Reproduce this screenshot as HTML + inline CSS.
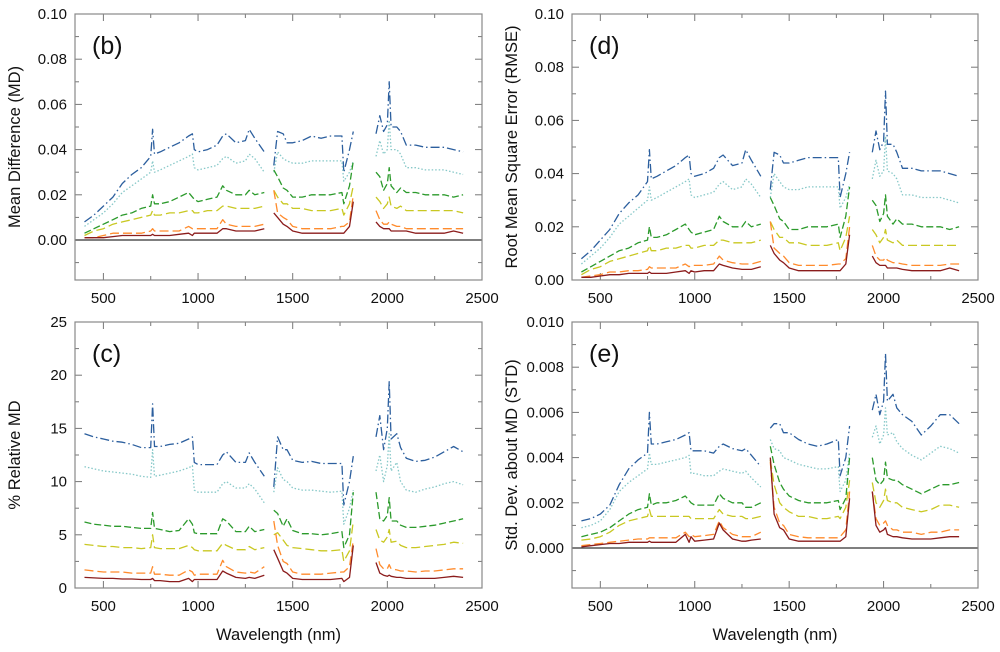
<!DOCTYPE html>
<html><head><meta charset="utf-8"><style>
body{margin:0;background:#fff;width:1000px;height:652px;overflow:hidden}
svg{display:block;font-family:"Liberation Sans",Arial,sans-serif}
</style></head><body>
<svg id="chart" width="1000" height="652" viewBox="0 0 1000 652" xmlns="http://www.w3.org/2000/svg"></svg>
<script>
const wavelengths=[400,450,500,550,600,650,700,750,760,770,800,850,900,950,970,980,1000,1050,1100,1130,1150,1200,1250,1270,1300,1350,null,1400,1420,1450,1470,1500,1550,1600,1650,1700,1760,1770,1800,1820,null,1940,1960,1980,2000,2010,2020,2050,2070,2100,2150,2200,2250,2300,2350,2400];
const xTicks=[500,1000,1500,2000,2500];
const seriesNames=["blue","cyan","green","yellow","orange","red"];

// (b) Mean Difference
const mdBlue=[0.008,0.011,0.015,0.019,0.025,0.029,0.032,0.037,0.049,0.038,0.039,0.041,0.043,0.046,0.047,0.040,0.039,0.040,0.042,0.046,0.047,0.043,0.044,0.049,0.045,0.039,null,0.033,0.048,0.047,0.043,0.043,0.044,0.046,0.045,0.046,0.046,0.030,0.040,0.048,null,0.047,0.055,0.048,0.051,0.070,0.050,0.050,0.048,0.042,0.042,0.041,0.041,0.041,0.040,0.039];
const mdCyan=[0.006,0.009,0.012,0.016,0.021,0.024,0.027,0.030,0.035,0.030,0.031,0.033,0.035,0.037,0.038,0.032,0.031,0.032,0.033,0.036,0.037,0.034,0.035,0.038,0.036,0.030,null,0.030,0.039,0.036,0.035,0.034,0.034,0.035,0.035,0.035,0.035,0.026,0.030,0.035,null,0.037,0.044,0.038,0.040,0.053,0.040,0.040,0.038,0.032,0.032,0.031,0.031,0.031,0.030,0.029];
const mdGreen=[0.003,0.005,0.007,0.009,0.011,0.012,0.014,0.015,0.020,0.016,0.016,0.017,0.019,0.021,0.019,0.018,0.017,0.018,0.019,0.024,0.022,0.020,0.020,0.022,0.020,0.021,null,0.031,0.028,0.023,0.022,0.019,0.019,0.020,0.020,0.020,0.021,0.016,0.024,0.035,null,0.030,0.028,0.022,0.025,0.032,0.024,0.021,0.023,0.021,0.021,0.020,0.020,0.020,0.019,0.020];
const mdYellow=[0.002,0.004,0.005,0.007,0.008,0.009,0.010,0.011,0.013,0.011,0.011,0.012,0.012,0.013,0.013,0.012,0.012,0.013,0.013,0.015,0.015,0.014,0.014,0.014,0.014,0.015,null,0.022,0.019,0.016,0.016,0.014,0.014,0.013,0.013,0.013,0.014,0.011,0.016,0.024,null,0.019,0.017,0.014,0.016,0.019,0.015,0.014,0.015,0.013,0.013,0.013,0.013,0.013,0.013,0.012];
const mdOrange=[0.001,0.001,0.002,0.003,0.003,0.003,0.003,0.004,0.005,0.004,0.004,0.004,0.004,0.006,0.005,0.005,0.005,0.005,0.005,0.009,0.007,0.006,0.006,0.006,0.006,0.007,null,0.022,0.012,0.010,0.009,0.006,0.005,0.005,0.005,0.005,0.006,0.006,0.008,0.020,null,0.013,0.009,0.007,0.007,0.008,0.007,0.006,0.006,0.005,0.005,0.005,0.005,0.005,0.005,0.005];
const mdRed=[0.001,0.001,0.001,0.0015,0.002,0.002,0.002,0.002,0.0025,0.002,0.002,0.002,0.0025,0.003,0.002,0.003,0.003,0.003,0.003,0.005,0.005,0.004,0.004,0.004,0.004,0.005,null,0.012,0.010,0.007,0.006,0.004,0.003,0.003,0.003,0.003,0.003,0.003,0.006,0.017,null,0.008,0.006,0.005,0.005,0.005,0.004,0.004,0.004,0.004,0.003,0.003,0.003,0.003,0.004,0.003];

// (d) RMSE
const rmseBlue=[0.008,0.011,0.015,0.019,0.025,0.029,0.032,0.037,0.049,0.038,0.039,0.041,0.043,0.046,0.047,0.040,0.039,0.040,0.042,0.046,0.047,0.043,0.044,0.049,0.045,0.039,null,0.034,0.048,0.047,0.044,0.044,0.045,0.046,0.046,0.046,0.046,0.031,0.040,0.048,null,0.048,0.056,0.049,0.052,0.071,0.051,0.051,0.048,0.042,0.042,0.041,0.041,0.041,0.040,0.039];
const rmseCyan=[0.006,0.009,0.012,0.016,0.021,0.024,0.027,0.030,0.035,0.030,0.031,0.033,0.035,0.037,0.038,0.032,0.031,0.032,0.033,0.036,0.037,0.034,0.035,0.038,0.036,0.031,null,0.031,0.040,0.037,0.035,0.034,0.034,0.035,0.035,0.035,0.035,0.027,0.031,0.036,null,0.038,0.045,0.039,0.041,0.054,0.041,0.040,0.038,0.032,0.032,0.031,0.031,0.031,0.030,0.029];
const rmseGreen=[0.003,0.005,0.007,0.009,0.011,0.012,0.014,0.015,0.020,0.016,0.016,0.017,0.019,0.021,0.019,0.018,0.017,0.018,0.019,0.024,0.022,0.020,0.020,0.022,0.020,0.021,null,0.031,0.028,0.023,0.022,0.019,0.019,0.020,0.020,0.020,0.021,0.016,0.024,0.035,null,0.030,0.028,0.022,0.025,0.032,0.024,0.021,0.023,0.021,0.021,0.020,0.020,0.020,0.019,0.020];
const rmseYellow=[0.002,0.004,0.005,0.007,0.008,0.009,0.010,0.011,0.013,0.011,0.011,0.012,0.012,0.013,0.013,0.012,0.012,0.013,0.013,0.015,0.015,0.014,0.014,0.014,0.014,0.015,null,0.022,0.019,0.016,0.016,0.014,0.014,0.013,0.013,0.013,0.014,0.011,0.016,0.024,null,0.019,0.017,0.014,0.016,0.019,0.015,0.014,0.015,0.013,0.013,0.013,0.013,0.013,0.013,0.013];
const rmseOrange=[0.001,0.0015,0.002,0.003,0.003,0.0035,0.0035,0.004,0.005,0.0045,0.0045,0.0045,0.0045,0.006,0.005,0.0055,0.0055,0.0055,0.006,0.009,0.0075,0.0065,0.006,0.006,0.006,0.007,null,0.022,0.012,0.010,0.009,0.0065,0.0055,0.0055,0.0055,0.0055,0.006,0.006,0.008,0.020,null,0.013,0.009,0.0075,0.0075,0.0085,0.0075,0.0065,0.0065,0.006,0.0055,0.0055,0.0055,0.0055,0.006,0.006];
const rmseRed=[0.001,0.001,0.0015,0.002,0.002,0.0025,0.0025,0.0025,0.003,0.0025,0.0025,0.0025,0.003,0.0035,0.0025,0.0035,0.003,0.0035,0.0035,0.006,0.0055,0.0045,0.004,0.004,0.004,0.005,null,0.013,0.010,0.0075,0.0065,0.0045,0.0035,0.0035,0.0035,0.0035,0.0035,0.0035,0.006,0.017,null,0.009,0.0065,0.0055,0.0055,0.0055,0.0045,0.0045,0.0045,0.004,0.0035,0.0035,0.0035,0.0035,0.0045,0.0035];

// (c) % Relative MD
const relBlue=[14.5,14.2,14.0,13.8,13.7,13.5,13.2,13.2,17.3,13.3,13.3,13.5,13.6,14.0,14.2,11.8,11.6,11.6,11.6,12.5,12.8,11.8,11.8,12.7,11.8,10.5,null,9.5,14.2,13.0,13.0,12.0,11.8,11.9,11.7,11.7,11.7,7.8,10.0,12.4,null,14.2,16.2,13.0,15.0,19.4,14.0,14.5,13.2,12.2,11.9,12.0,12.3,12.8,13.3,12.8];
const relCyan=[11.4,11.2,11.0,10.9,10.8,10.7,10.5,10.4,13.0,10.5,10.6,10.8,11.0,11.3,11.5,9.2,9.0,9.0,9.0,9.8,10.0,9.4,9.4,9.8,9.3,8.0,null,9.0,11.3,10.2,10.0,9.4,9.2,9.2,9.1,9.0,9.1,6.0,7.5,9.2,null,11.0,12.5,10.0,11.5,14.5,11.0,11.8,10.0,9.2,9.0,9.3,9.5,9.8,10.0,9.7];
const relGreen=[6.2,6.0,5.9,5.8,5.8,5.7,5.6,5.6,7.1,5.6,5.5,5.3,5.4,6.5,6.0,5.2,5.1,5.1,5.1,6.5,6.3,5.3,5.3,5.8,5.3,5.5,null,7.3,7.0,5.8,6.5,5.4,5.1,5.1,5.0,5.1,5.3,3.8,5.0,9.0,null,9.0,6.5,6.3,6.8,8.5,6.3,6.3,5.9,5.7,5.7,5.8,5.9,6.1,6.3,6.5];
const relYellow=[4.1,4.0,3.9,3.9,3.8,3.8,3.7,3.8,5.0,3.8,3.7,3.7,3.7,4.0,3.8,3.6,3.5,3.5,3.5,4.2,4.0,3.6,3.6,3.9,3.6,3.8,null,5.0,5.2,4.5,4.0,3.8,3.7,3.6,3.5,3.5,3.6,2.5,3.5,6.3,null,5.5,4.5,4.3,4.8,5.5,4.3,4.4,4.0,3.8,3.8,3.9,4.0,4.1,4.3,4.2];
const relOrange=[1.7,1.6,1.5,1.5,1.5,1.4,1.4,1.4,2.0,1.3,1.3,1.2,1.2,1.7,1.5,1.2,1.3,1.3,1.3,2.6,2.0,1.5,1.4,1.5,1.4,2.0,null,6.3,4.0,2.5,2.3,1.5,1.3,1.3,1.3,1.4,1.5,1.5,2.0,4.5,null,3.7,2.2,1.8,1.8,2.2,1.8,1.7,1.6,1.6,1.5,1.6,1.6,1.7,1.8,1.8];
const relRed=[1.0,0.95,0.9,0.9,0.85,0.85,0.8,0.8,0.9,0.7,0.7,0.6,0.6,0.9,0.6,0.8,0.8,0.8,0.8,1.6,1.4,1.0,0.9,1.0,0.9,1.2,null,3.6,2.8,1.6,1.4,0.9,0.8,0.8,0.8,0.8,0.9,0.6,1.0,4.0,null,2.4,1.4,1.2,1.1,1.2,1.1,1.0,1.0,0.9,0.9,0.9,0.9,1.0,1.1,1.0];

// (e) STD about MD
const stdBlue=[0.0012,0.0013,0.0015,0.0019,0.0028,0.0035,0.0039,0.0042,0.0060,0.0046,0.0046,0.0047,0.0048,0.0050,0.0051,0.0043,0.0043,0.0043,0.0042,0.0045,0.0046,0.0044,0.0043,0.0044,0.0041,0.0036,null,0.0053,0.0055,0.0055,0.0051,0.0051,0.0048,0.0046,0.0045,0.0046,0.0048,0.0032,0.0040,0.0054,null,0.0061,0.0068,0.0059,0.0065,0.0086,0.0065,0.0068,0.0062,0.0059,0.0056,0.0050,0.0054,0.0059,0.0059,0.0055];
const stdCyan=[0.0009,0.0010,0.0012,0.0017,0.0025,0.0029,0.0032,0.0035,0.0042,0.0037,0.0037,0.0038,0.0039,0.0040,0.0041,0.0033,0.0033,0.0032,0.0032,0.0034,0.0035,0.0034,0.0033,0.0034,0.0031,0.0027,null,0.0048,0.0044,0.0043,0.0040,0.0039,0.0037,0.0036,0.0035,0.0035,0.0036,0.0025,0.0030,0.0042,null,0.0049,0.0054,0.0046,0.0050,0.0062,0.0050,0.0051,0.0047,0.0044,0.0041,0.0039,0.0042,0.0045,0.0044,0.0042];
const stdGreen=[0.0005,0.0006,0.0007,0.0009,0.0012,0.0015,0.0017,0.0018,0.0024,0.0019,0.0020,0.0020,0.0021,0.0023,0.0021,0.0020,0.0019,0.0019,0.0019,0.0024,0.0022,0.0020,0.0020,0.0018,0.0018,0.0020,null,0.0045,0.0037,0.0029,0.0026,0.0023,0.0021,0.0020,0.0020,0.0020,0.0021,0.0017,0.0022,0.0040,null,0.0040,0.0030,0.0028,0.0030,0.0038,0.0031,0.0030,0.0030,0.0028,0.0026,0.0024,0.0026,0.0028,0.0028,0.0029];
const stdYellow=[0.00035,0.0004,0.0005,0.0007,0.0010,0.0012,0.0013,0.0014,0.0017,0.0014,0.0014,0.0014,0.0014,0.0014,0.0014,0.0013,0.0013,0.0013,0.0013,0.0017,0.0015,0.0014,0.0014,0.0013,0.0013,0.0014,null,0.0039,0.0028,0.0020,0.0018,0.0016,0.0014,0.0014,0.0013,0.0013,0.0014,0.0013,0.0018,0.0030,null,0.0029,0.0020,0.0018,0.0021,0.0026,0.0021,0.0020,0.0020,0.0018,0.0017,0.0016,0.0017,0.0019,0.0019,0.0018];
const stdOrange=[0.0001,0.00015,0.0002,0.00025,0.0003,0.00035,0.0004,0.0004,0.00045,0.00045,0.00045,0.00045,0.00045,0.0007,0.0005,0.0006,0.0005,0.00055,0.0006,0.0012,0.0009,0.0006,0.0005,0.0005,0.0005,0.0007,null,0.0038,0.0018,0.0011,0.0010,0.0006,0.0005,0.00045,0.00045,0.00045,0.00045,0.0005,0.0008,0.0025,null,0.0025,0.0013,0.0010,0.0011,0.0012,0.0010,0.0008,0.0008,0.0007,0.0007,0.0006,0.0007,0.0007,0.0008,0.0008];
const stdRed=[0.00005,0.0001,0.00015,0.0002,0.0002,0.00025,0.00025,0.00025,0.0003,0.00025,0.00025,0.00025,0.00025,0.0006,0.00025,0.0005,0.0003,0.00035,0.0004,0.0011,0.0008,0.0004,0.0003,0.0003,0.00035,0.0004,null,0.0040,0.0015,0.0009,0.0008,0.0004,0.0003,0.0003,0.0003,0.0003,0.0003,0.0003,0.0005,0.0022,null,0.0025,0.0010,0.0007,0.0008,0.0009,0.0006,0.0005,0.0005,0.00045,0.0004,0.0004,0.0004,0.00045,0.0005,0.0005];

const mdTicks=["0.00","0.02","0.04","0.06","0.08","0.10"];
const relTicks=["0","5","10","15","20","25"];
const stdTicks=["0.000","0.002","0.004","0.006","0.008","0.010"];

const styles=[
 {c:"#2c5f9e",d:"9,3,1.5,3",w:1.3},
 {c:"#86c8c8",d:"1.5,2",w:1.3},
 {c:"#2b9a2b",d:"7,3",w:1.3},
 {c:"#c9c822",d:"9,4",w:1.3},
 {c:"#ff8b2c",d:"9,4",w:1.3},
 {c:"#8b1c1c",d:"",w:1.3}
];
const NS="http://www.w3.org/2000/svg";
const svg=document.getElementById('chart');
function el(tag,attrs,parent){const e=document.createElementNS(NS,tag);for(const k in attrs)e.setAttribute(k,attrs[k]);(parent||svg).appendChild(e);return e;}

const panels=[
 {id:"b",L:75,R:482,T:14,B:280,ymin:-0.0177,ymax:0.10,ticks:mdTicks,step:0.02,minor:0.01,zero:true,series:[mdBlue,mdCyan,mdGreen,mdYellow,mdOrange,mdRed],title:"Mean Difference (MD)",tx:20,xlab:false},
 {id:"d",L:572,R:978,T:14,B:280,ymin:0,ymax:0.10,ticks:mdTicks,step:0.02,minor:0.01,zero:false,series:[rmseBlue,rmseCyan,rmseGreen,rmseYellow,rmseOrange,rmseRed],title:"Root Mean Square Error (RMSE)",tx:517,xlab:false},
 {id:"c",L:75,R:482,T:322,B:588,ymin:0,ymax:25,ticks:relTicks,step:5,minor:2.5,zero:false,series:[relBlue,relCyan,relGreen,relYellow,relOrange,relRed],title:"% Relative MD",tx:20,xlab:true},
 {id:"e",L:572,R:978,T:322,B:588,ymin:-0.00177,ymax:0.010,ticks:stdTicks,step:0.002,minor:0.001,zero:true,series:[stdBlue,stdCyan,stdGreen,stdYellow,stdOrange,stdRed],title:"Std. Dev. about MD (STD)",tx:517,xlab:true}
];

panels.forEach(p=>{
 const g=el('g',{});
 
 
 const xs=v=>p.L+(v-350)/(2500-350)*(p.R-p.L);
 const ys=v=>p.B-(v-p.ymin)/(p.ymax-p.ymin)*(p.B-p.T);
 // minor/major x ticks
 for(let v=500;v<=2500;v+=250){
  const x=xs(v),len=(v%500===0)?7:4;
  el('line',{x1:x,x2:x,y1:p.B,y2:p.B-len,stroke:"#777","stroke-width":1},g);
  el('line',{x1:x,x2:x,y1:p.T,y2:p.T+len,stroke:"#777","stroke-width":1},g);
 }
 xTicks.forEach(v=>{
  const t=el('text',{x:xs(v),y:p.B+23,"text-anchor":"middle","font-size":"15",fill:"#111"},g);
  t.textContent=v;
  
  
 });
 // y ticks
 const nMinor=Math.round((p.ymax-0)/p.minor);
 for(let i=Math.ceil(p.ymin/p.minor);i<=nMinor;i++){
  const v=i*p.minor,y=ys(v),len=(i%2===0)?7:4;
  el('line',{x1:p.L,x2:p.L+len,y1:y,y2:y,stroke:"#777","stroke-width":1},g);
  el('line',{x1:p.R,x2:p.R-len,y1:y,y2:y,stroke:"#777","stroke-width":1},g);
 }
 p.ticks.forEach((lab,i)=>{
  const t=el('text',{x:p.L-8,y:ys(i*p.step)+5,"text-anchor":"end","font-size":"15",fill:"#111"},g);
  t.textContent=lab;
  
  
 });
 if(p.zero){
  const z=el('line',{x1:p.L,x2:p.R,y1:ys(0),y2:ys(0),stroke:"#333","stroke-width":1.3},g);
  
  
 }
 // series
 p.series.forEach((arr,si)=>{
  let d="",pen=false;
  wavelengths.forEach((w,i)=>{
   const v=arr[i];
   if(w===null||v===null){pen=false;return;}
   d+=(pen?"L":"M")+xs(w).toFixed(1)+","+ys(v).toFixed(1);pen=true;
  });
  const s=styles[si];
  const path=el('path',{d:d,fill:"none",stroke:s.c,"stroke-width":s.w,"stroke-dasharray":s.d,"stroke-linejoin":"round"},g);
  
  
 });
 const fr=el('rect',{x:p.L,y:p.T,width:p.R-p.L,height:p.B-p.T,fill:"none",stroke:"#888","stroke-width":1.2},g);
 
 
 const pl=el('text',{x:p.L+17,y:p.T+40,"font-size":"25",fill:"#111"},g);
 pl.textContent="("+p.id+")";
 
 
 const cy=(p.T+p.B)/2;
 const yt=el('text',{x:p.tx,y:cy,"text-anchor":"middle","font-size":"16.5",fill:"#111",transform:"rotate(-90 "+p.tx+" "+cy+")"},g);
 yt.textContent=p.title;
 
 
 if(p.xlab){
  const xt=el('text',{x:(p.L+p.R)/2,y:640,"text-anchor":"middle","font-size":"16.5",fill:"#111"},g);
  xt.textContent="Wavelength (nm)";
  
  
 }
});
</script>
</body></html>
